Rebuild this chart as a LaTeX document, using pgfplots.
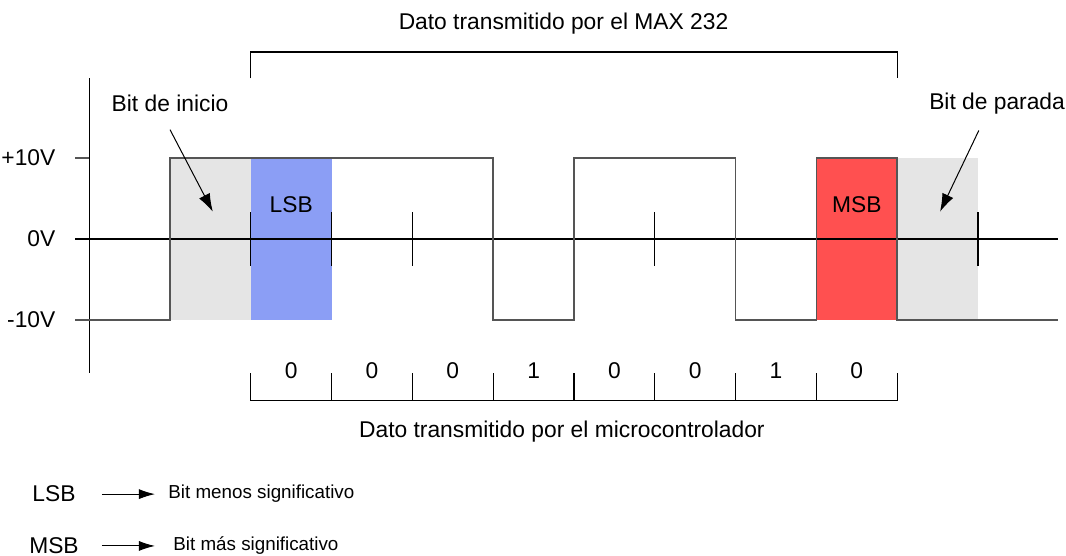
\documentclass[border=0pt]{standalone}
\usepackage{fontspec}
\setmainfont{Liberation Sans}
\usepackage{pgfplots}
\pgfplotsset{compat=1.18}
\usetikzlibrary{arrows.meta}
\definecolor{shade}{HTML}{E5E5E5}
\definecolor{lsb}{HTML}{8B9EF5}
\definecolor{msb}{HTML}{FF5050}
\definecolor{wave}{HTML}{555555}
\begin{document}
\fontsize{11.4}{13}\selectfont
\begin{tikzpicture}
\begin{axis}[
  width=533pt, height=278pt, scale only axis,
  xmin=-2.104, xmax=11.089, ymin=-39.14, ymax=29.51,
  hide axis, clip=false,
]
\coordinate (ll) at (rel axis cs:0,0);
\coordinate (ur) at (rel axis cs:1,1);
% shaded bit regions
\addplot[fill=shade, draw=none] coordinates {(0,-10) (1,-10) (1,10) (0,10)} -- cycle;
\addplot[fill=shade, draw=none] coordinates {(9,-10) (10,-10) (10,10) (9,10)} -- cycle;
\addplot[fill=lsb, draw=none] coordinates {(1,-10) (2,-10) (2,10) (1,10)} -- cycle;
\addplot[fill=msb, draw=none] coordinates {(8,-10) (9,-10) (9,10) (8,10)} -- cycle;
% y axis and ticks
\addplot[black, line width=0.6pt] coordinates {(-1,19.84) (-1,-16.5)};
\addplot[wave, line width=0.6pt] coordinates {(-1.17,10) (-1,10)};
% 0V line
\addplot[black, line width=0.6pt] coordinates {(-1.17,0) (10.99,0)};
% bit ticks on 0V line
\foreach \t in {1,...,10}{
  \edef\tmp{\noexpand\addplot[black, line width=0.6pt] coordinates {(\t,3.3) (\t,-3.3)};}
  \tmp
}
% waveform
\addplot[wave, line width=0.8pt] coordinates {
 (-1.17,-10) (0,-10) (0,10) (4,10) (4,-10) (5,-10) (5,10) (7,10) (7,-10)
 (8,-10) (8,10) (9,10) (9,-10) (10.99,-10)};
% top bracket
\addplot[black, line width=0.6pt] coordinates {(1,19.84) (1,23.1) (9,23.1) (9,19.84)};
% bottom bracket
\addplot[black, line width=0.6pt] coordinates {(1,-16.6) (1,-19.9) (9,-19.9) (9,-16.6)};
\foreach \t in {2,...,8}{
  \edef\tmp{\noexpand\addplot[black, line width=0.6pt] coordinates {(\t,-16.6) (\t,-19.9)};}
  \tmp
}
% texts
\node at (axis cs:-1.32,10) [anchor=east] {+10V};
\node at (axis cs:-1.32,0) [anchor=east] {0V};
\node at (axis cs:-1.32,-10) [anchor=east] {-10V};
\node at (axis cs:4.87,26.6) {Dato transmitido por el MAX 232};
\node at (axis cs:0,16.7) {Bit de inicio};
\node at (axis cs:11.08,16.7) [anchor=east, inner xsep=0pt] {Bit de parada};
\node at (axis cs:1.5,4.2) {LSB};
\node at (axis cs:8.5,4.2) {MSB};
\draw[-{Latex[length=9pt,width=6pt]}, line width=0.5pt] (axis cs:0,13.5) -- (axis cs:0.53,3.37);
\draw[-{Latex[length=9pt,width=6pt]}, line width=0.5pt] (axis cs:10.01,13.4) -- (axis cs:9.53,3.37);
\node at (axis cs:1.5,-16.3) {0};
\node at (axis cs:2.5,-16.3) {0};
\node at (axis cs:3.5,-16.3) {0};
\node at (axis cs:4.5,-16.3) {1};
\node at (axis cs:5.5,-16.3) {0};
\node at (axis cs:6.5,-16.3) {0};
\node at (axis cs:7.5,-16.3) {1};
\node at (axis cs:8.5,-16.3) {0};
\node at (axis cs:4.85,-23.8) {Dato transmitido por el microcontrolador};
% legend
\node at (axis cs:-1.436,-31.5) {LSB};
\node at (axis cs:-1.436,-37.9) {MSB};
\draw[-{Latex[length=8pt,width=5pt]}, line width=0.5pt] (axis cs:-0.842,-31.5) -- (axis cs:-0.186,-31.5);
\draw[-{Latex[length=8pt,width=5pt]}, line width=0.5pt] (axis cs:-0.842,-37.9) -- (axis cs:-0.186,-37.9);
\node[anchor=west, font=\fontsize{9.4}{11}\selectfont, inner sep=0pt] at (axis cs:-0.025,-31.5) {Bit menos significativo};
\node[anchor=west, font=\fontsize{9.4}{11}\selectfont, inner sep=0pt] at (axis cs:0.037,-37.9) {Bit más significativo};
\end{axis}
\pgfresetboundingbox
\path (ll) rectangle (ur);
\end{tikzpicture}
\end{document}
